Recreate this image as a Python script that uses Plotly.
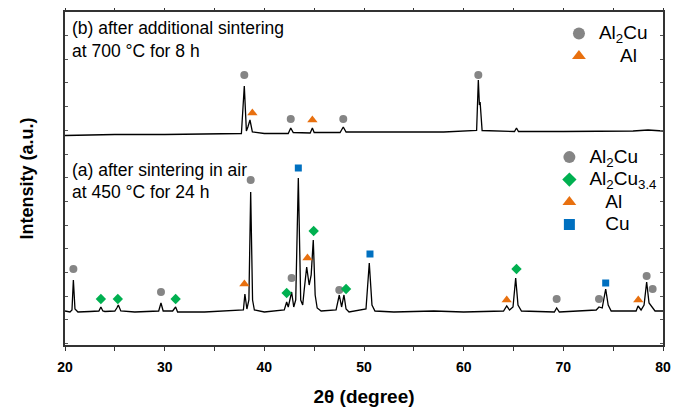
import plotly.graph_objects as go

# ---- Pattern (a): after sintering in air at 450 °C for 24 h ----
xa = [20.0, 20.5, 20.7, 20.84, 21.0, 21.3, 22.5, 23.4, 23.6, 23.8, 24.0, 25.0, 25.2, 25.35, 25.6, 27.0,
      29.4, 29.63, 29.85, 30.8, 31.1, 31.3, 34.0, 36.0, 37.9, 38.05, 38.25, 38.45, 38.63, 38.82, 39.0,
      40.0, 42.0, 42.24, 42.4, 42.74, 42.95, 43.15, 43.41, 43.65, 43.85, 44.0, 44.25, 44.5, 44.7,
      44.91, 45.1, 45.3, 45.7, 47.2, 47.52, 47.75, 47.99, 48.2, 48.5, 50.2, 50.53, 50.8, 51.1, 53.0,
      57.0, 60.0, 64.0, 64.32, 64.6, 64.95, 65.22, 65.45, 65.8, 69.1, 69.33, 69.6, 73.3, 73.58,
      73.9, 74.25, 74.5, 74.8, 77.3, 77.5, 77.8, 78.1, 78.36, 78.6, 78.9, 79.2, 80.0]
ya = [34, 33, 35, 65, 36, 33, 33.5, 34, 38, 34, 33.5, 34, 37, 40, 34, 33,
      34, 42, 34, 34, 38, 33, 33, 34, 35, 51, 36, 45, 153, 45, 35,
      33, 35, 43, 38, 53, 38, 45, 167, 45, 40, 55, 78, 60, 70,
      105, 50, 37, 34, 35, 50, 38, 50, 36, 33, 36, 82, 40, 34, 33,
      34, 33, 34, 39, 35, 38, 67, 40, 34, 33, 37, 33, 35, 38,
      37, 56, 40, 34, 34, 39, 35, 40, 63, 42, 38, 34, 34]

# ---- Pattern (b): after additional sintering at 700 °C for 8 h ----
xb = [20.0, 25.0, 30.0, 35.0, 37.7, 37.99, 38.2, 38.35, 38.56, 38.8, 40.0, 42.4, 42.65, 42.9,
      44.6, 44.82, 45.0, 47.6, 47.92, 48.2, 52.0, 58.0, 61.3, 61.47, 61.58, 61.65, 61.85,
      65.1, 65.3, 65.5, 70.0, 77.0, 78.5, 80.0]
yb = [209.5, 210.5, 210.5, 211, 211.5, 259, 214, 218, 225, 213, 211.5, 211.5, 217, 212.5,
      212, 217, 212.5, 212.5, 218, 213, 213, 213, 214.5, 265, 240, 243, 214.5,
      213.5, 217, 213.5, 213.5, 214, 215, 214]

# ---- Phase markers ----
a_al2cu_x = [20.84, 29.63, 38.63, 42.74, 47.52, 69.33, 73.58, 78.36, 78.96]
a_al2cu_y = [76, 53, 165, 67, 55, 46, 46, 69, 56]
a_al2cu34_x = [23.6, 25.3, 31.1, 42.24, 44.95, 48.2, 65.3]
a_al2cu34_y = [46, 46, 46, 52, 114, 56, 76]
a_al_x = [38.0, 44.33, 64.32, 77.52]
a_al_y = [61, 87, 45, 45]
a_cu_x = [43.41, 50.6, 74.25]
a_cu_y = [177, 91, 62]

b_al2cu_x = [37.99, 42.65, 47.92, 61.47]
b_al2cu_y = [270, 226, 226, 270]
b_al_x = [38.8, 44.82]
b_al_y = [232, 225]

GRAY = "#858585"
GREEN = "#00B050"
ORANGE = "#E8700F"
BLUE = "#0070C0"
FONT = "Arial, Liberation Sans, sans-serif"

fig = go.Figure()
fig.add_trace(go.Scatter(x=xa, y=ya, mode="lines", line=dict(color="black", width=1.3), showlegend=False))
fig.add_trace(go.Scatter(x=xb, y=yb, mode="lines", line=dict(color="black", width=1.3), showlegend=False))

def mk(x, y, sym, col, size):
    fig.add_trace(go.Scatter(x=x, y=y, mode="markers", showlegend=False,
                             marker=dict(symbol=sym, color=col, size=size, line=dict(width=0))))

mk(a_al2cu_x, a_al2cu_y, "circle", GRAY, 8)
mk(a_al2cu34_x, a_al2cu34_y, "diamond", GREEN, 8)
mk(a_al_x, a_al_y, "triangle-up", ORANGE, 9)
mk(a_cu_x, a_cu_y, "square", BLUE, 7)
mk(b_al2cu_x, b_al2cu_y, "circle", GRAY, 8)
mk(b_al_x, b_al_y, "triangle-up", ORANGE, 9)

NB = "\u00a0"
def big(s):
    return '<span style="font-size:19px">' + s + "</span>"

def leg(name, sym, col, size, legend):
    fig.add_trace(go.Scatter(x=[None], y=[None], mode="markers", name=big(name), legend=legend,
                             marker=dict(symbol=sym, color=col, size=size, line=dict(width=0))))

leg("Al<sub>2</sub>Cu", "circle", GRAY, 12, "legend")
leg(NB * 4 + "Al", "triangle-up", ORANGE, 12, "legend")
leg("Al<sub>2</sub>Cu", "circle", GRAY, 12, "legend2")
leg("Al<sub>2</sub>Cu<sub>3.4</sub>", "diamond", GREEN, 11, "legend2")
leg(NB * 3 + "Al", "triangle-up", ORANGE, 12, "legend2")
leg(NB * 3 + "Cu", "square", BLUE, 11, "legend2")

# The page body adds an 8 px offset; margins compensate so the plot box lands at 65..663 x 12..345
OFF = 8
legfont = dict(family=FONT, size=15, color="black")
fig.update_layout(
    width=686, height=414,
    margin=dict(l=65 - OFF, r=23 + OFF, t=12 - OFF, b=69 + OFF),
    paper_bgcolor="white", plot_bgcolor="white",
    font=dict(family=FONT, color="black"),
    legend=dict(x=0.826, y=0.984, xanchor="left", yanchor="top", font=legfont,
                bgcolor="rgba(0,0,0,0)", itemclick=False, tracegroupgap=0),
    legend2=dict(x=0.81, y=0.613, xanchor="left", yanchor="top", font=legfont,
                 bgcolor="rgba(0,0,0,0)", itemclick=False, tracegroupgap=0),
    xaxis=dict(range=[20, 80], dtick=10, tick0=20, showgrid=False, zeroline=False,
               showline=True, linecolor="#333333", linewidth=1.5, mirror="ticks",
               ticks="outside", ticklen=4, tickcolor="#333333", tickwidth=1.2,
               minor=dict(dtick=5, ticks="outside", ticklen=4, tickcolor="#333333"),
               tickfont=dict(family=FONT, size=14, color="black"),
               tickprefix="<b>", ticksuffix="</b>", automargin=False, ticklabelstandoff=4,
               title=dict(text="<b>2θ (degree)</b>", font=dict(family=FONT, size=19, color="black"),
                          standoff=16)),
    yaxis=dict(range=[0, 333], tick0=1.4, dtick=23.7, showgrid=False, zeroline=False,
               showline=True, linecolor="#333333", linewidth=1.5, mirror="ticks",
               ticks="inside", ticklen=3, tickcolor="#555555", tickwidth=1,
               showticklabels=False, automargin=False,
               title=dict(text="<b>Intensity (a.u.)</b>", font=dict(family=FONT, size=18, color="black"),
                          standoff=25)),
)

txtfont = dict(family=FONT, size=17.5, color="black")
for txt, yy in [("(b) after additional sintering", 0.952), ("at 700 °C for 8 h", 0.882),
                ("(a) after sintering in air", 0.5255), ("at 450 °C for 24 h", 0.46)]:
    fig.add_annotation(text=txt, xref="paper", yref="paper", x=0.008, y=yy,
                       xanchor="left", yanchor="middle", showarrow=False, font=txtfont)

fig.write_html("out.html")
